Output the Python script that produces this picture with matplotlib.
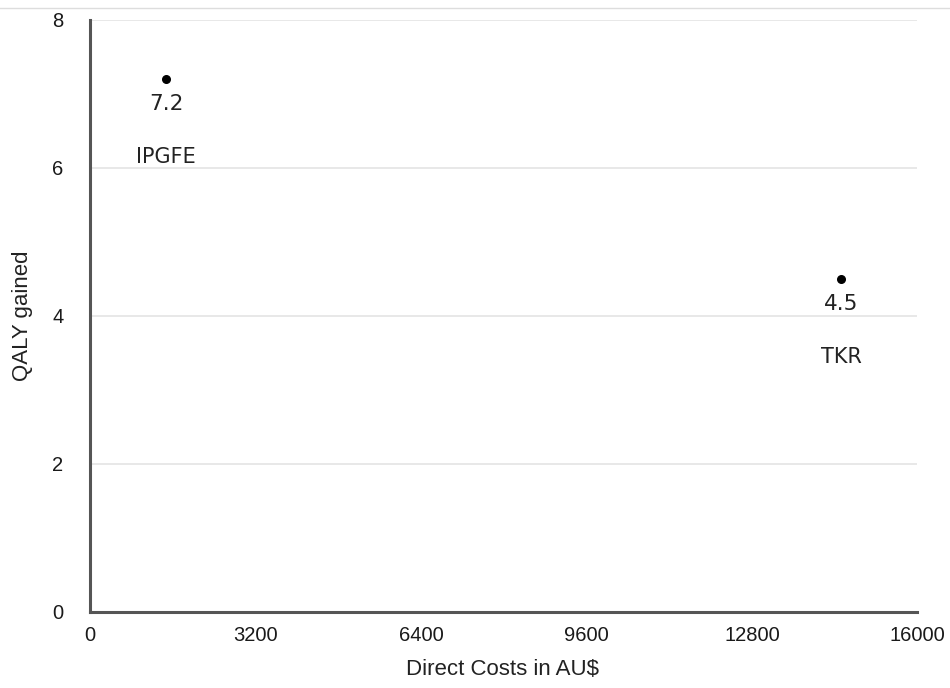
import matplotlib
matplotlib.use("Agg")
import matplotlib.pyplot as plt
from matplotlib.lines import Line2D

names = ["IPGFE", "TKR"]
costs = [1470, 14530]
qaly = [7.2, 4.5]
x_ticks = [0, 3200, 6400, 9600, 12800, 16000]
y_ticks = [0, 2, 4, 6, 8]

tick_font = ["Liberation Sans Narrow", "Liberation Sans", "DejaVu Sans"]
ann_font = ["DejaVu Sans"]

fig = plt.figure(figsize=(9.5, 6.88), dpi=100)
ax = fig.add_axes([0.0947, 0.1105, 0.871, 0.8605])

ax.scatter(costs, qaly, s=30, color="black", zorder=3)
for c, q, n in zip(costs, qaly, names):
    ax.annotate(f"{q}", (c, q), xytext=(0, -11), textcoords="offset points",
                ha="center", va="top", fontsize=15.5, color="#222222",
                family=ann_font)
    ax.annotate(n, (c, q), xytext=(0, -49), textcoords="offset points",
                ha="center", va="top", fontsize=15, color="#222222",
                family=ann_font)

ax.set_xlim(0, 16000)
ax.set_ylim(0, 8)
ax.set_xticks(x_ticks)
ax.set_yticks(y_ticks)
ax.set_xticklabels([str(t) for t in x_ticks])
ax.set_yticklabels([str(t) for t in y_ticks])
ax.grid(axis="y", color="#e4e4e4", linewidth=1.2)
ax.set_axisbelow(True)
ax.tick_params(length=0, labelsize=14.5, colors="#1a1a1a")
ax.tick_params(axis="x", pad=10)
ax.tick_params(axis="y", pad=19)
for lab in ax.get_xticklabels() + ax.get_yticklabels():
    lab.set_family(tick_font)
for s in ["top", "right"]:
    ax.spines[s].set_visible(False)
for s in ["left", "bottom"]:
    ax.spines[s].set_color("#555555")
    ax.spines[s].set_linewidth(2.2)

ax.set_xlabel("Direct Costs in AU$", fontsize=16, color="#222222", family=tick_font)
ax.set_ylabel("QALY gained", fontsize=16, color="#222222", family=tick_font)
ax.xaxis.set_label_coords(0.499, -0.098)
ax.yaxis.set_label_coords(-0.082, 0.5)
ax.xaxis.label.set_va("center")
ax.yaxis.label.set_va("center")

fig.add_artist(Line2D([0, 1], [1 - 8/688, 1 - 8/688], transform=fig.transFigure,
                      color="#dddddd", linewidth=1))

fig.savefig("out.png", dpi=100)
